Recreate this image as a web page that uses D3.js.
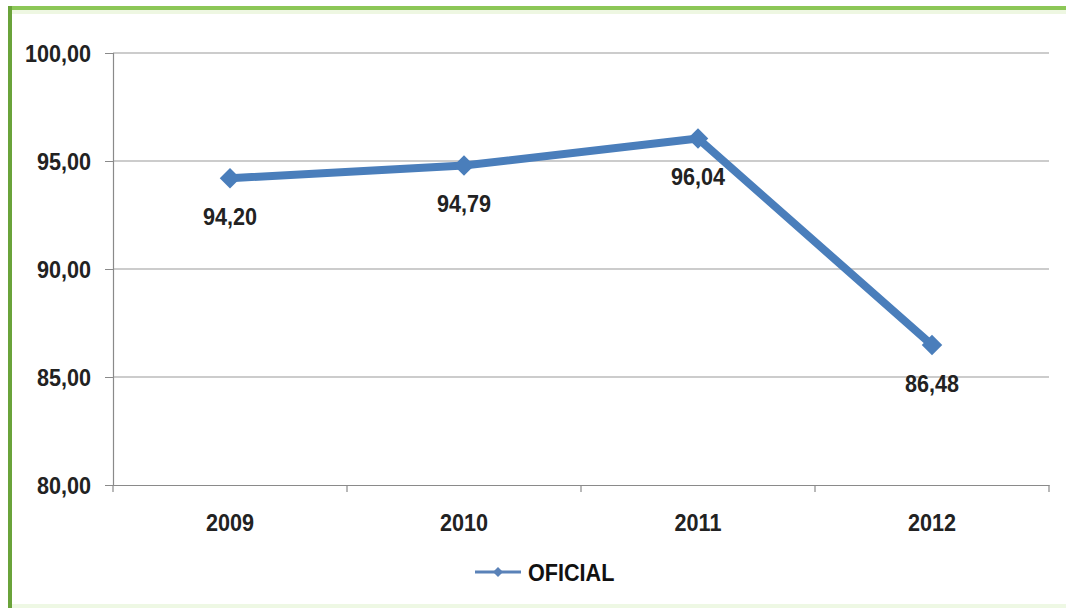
<!DOCTYPE html>
<html><head><meta charset="utf-8">
<script src="https://cdn.jsdelivr.net/npm/d3@7"></script>
<style>body{margin:0;background:#fff;}svg{display:block;font-family:"Liberation Sans",Arial,sans-serif;}</style>
</head><body><svg id="c" width="1066" height="608"></svg>
<script>
const years = ["2009","2010","2011","2012"];
const oficial = [94.20, 94.79, 96.04, 86.48];
const yTicks = [80, 85, 90, 95, 100];
const seriesName = "OFICIAL";

const svg = d3.select("#c");
const W = 1066, H = 608;
const m = {l:113, r:1049, t:53, b:485};
const FS = 21.6, SY = 1.13;
const fmt = d => d3.format(".2f")(d).replace(".", ",");

// frame
svg.append("rect").attr("x",0).attr("y",0).attr("width",W).attr("height",H).attr("fill","#fff");
svg.append("rect").attr("x",8).attr("y",6).attr("width",W-8).attr("height",4).attr("fill","#8cc757");
svg.append("rect").attr("x",8).attr("y",6).attr("width",4).attr("height",H-6).attr("fill","#6aa33a");
svg.append("rect").attr("x",12).attr("y",10).attr("width",W-12).attr("height",4).attr("fill","#e2f2cf").attr("opacity",0.6);
svg.append("rect").attr("x",12).attr("y",H-4).attr("width",W-12).attr("height",4).attr("fill","#eef8e4");

const x = d3.scaleBand().domain(years).range([m.l, m.r]);
const y = d3.scaleLinear().domain([80,100]).range([m.b, m.t]);

function stretchText(sel){
  // apply vertical stretch around each text's own anchor
  sel.each(function(){
    const t = d3.select(this);
    const tx = +t.attr("x") || 0, ty = +t.attr("y") || 0;
    t.attr("x",0).attr("y",0)
     .attr("transform",(t.attr("transform")||"") + ` translate(${tx},${ty}) scale(1,${SY})`);
  });
}

// gridlines
svg.append("g").selectAll("line").data(yTicks.filter(d=>d>80)).join("line")
  .attr("x1",m.l).attr("x2",m.r).attr("y1",d=>y(d)).attr("y2",d=>y(d))
  .attr("stroke","#9a9a9a").attr("stroke-width",1.2);

// y axis
const ya = svg.append("g").attr("transform",`translate(${m.l},0)`)
  .call(d3.axisLeft(y).tickValues(yTicks).tickSize(8).tickPadding(14).tickFormat(fmt));
ya.select(".domain").attr("stroke","#8a8a8a").attr("stroke-width",1.2);
ya.selectAll(".tick line").attr("stroke","#8a8a8a");
ya.selectAll("text").attr("font-size",FS).attr("font-weight","bold").attr("fill","#222").attr("dy","0.36em").call(stretchText);

// x axis
const xa = svg.append("g").attr("transform",`translate(0,${m.b})`)
  .call(d3.axisBottom(x).tickSize(0).tickPadding(31));
xa.select(".domain").attr("stroke","#8a8a8a").attr("stroke-width",1.2);
xa.selectAll("text").attr("font-size",FS).attr("font-weight","bold").attr("fill","#222")
  .attr("dy","0.36em").attr("y",37).call(stretchText);
// category boundary ticks
const bounds = years.map(d=>x(d)).concat([x(years[years.length-1])+x.bandwidth()]);
svg.append("g").selectAll("line").data(bounds).join("line")
  .attr("x1",d=>d).attr("x2",d=>d).attr("y1",m.b).attr("y2",m.b+7)
  .attr("stroke","#8a8a8a").attr("stroke-width",1.2);

const cx = d => x(d) + x.bandwidth()/2;
const color = "#4a7ebb";
const line = d3.line().x((d,i)=>cx(years[i])).y(d=>y(d));
svg.append("path").datum(oficial).attr("d",line).attr("fill","none")
  .attr("stroke",color).attr("stroke-width",8).attr("stroke-linejoin","round");
const diamond = d3.symbol().type(d3.symbolSquare).size(210);
svg.append("g").selectAll("path").data(oficial).join("path")
  .attr("d",diamond).attr("transform",(d,i)=>`translate(${cx(years[i])},${y(d)}) rotate(45)`).attr("fill",color);

// labels
svg.append("g").selectAll("text").data(oficial).join("text")
  .attr("x",(d,i)=>cx(years[i]))
  .attr("y",d=>y(d)+38)
  .attr("dy","0.36em")
  .attr("text-anchor","middle").attr("font-size",FS).attr("font-weight","bold").attr("fill","#222")
  .text(fmt).call(stretchText);

// legend
const lg = svg.append("g").attr("transform","translate(475,572)");
lg.append("line").attr("x1",0).attr("x2",46).attr("y1",0).attr("y2",0).attr("stroke","#5a82b8").attr("stroke-width",3);
lg.append("path").attr("d",d3.symbol().type(d3.symbolSquare).size(50)).attr("transform","translate(23,0) rotate(45)").attr("fill","#5a82b8");
lg.append("text").attr("x",53).attr("y",0).attr("dy","0.36em").attr("font-size",FS).attr("font-weight","bold").attr("fill","#111").text(seriesName).call(stretchText);
</script></body></html>
